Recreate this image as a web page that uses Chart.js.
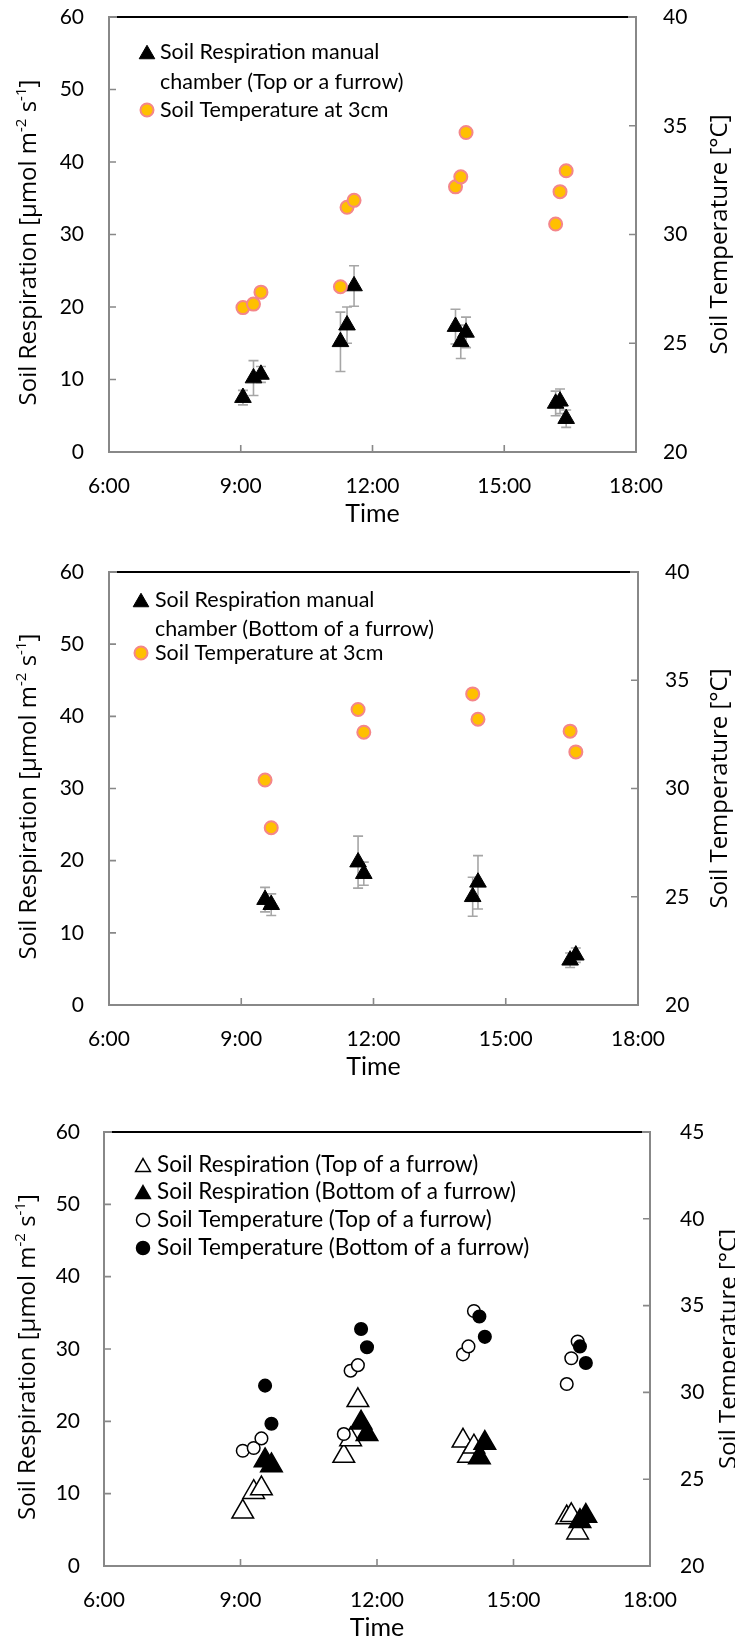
<!DOCTYPE html>
<html><head><meta charset="utf-8">
<script src="https://cdn.jsdelivr.net/npm/chart.js@4.4.1/dist/chart.umd.min.js"></script>
<style>
html,body{margin:0;padding:0;background:#fff;overflow:hidden;width:735px;height:1640px;position:relative;}
canvas{position:absolute;left:0;}
</style></head><body>
<canvas id="c1" width="735" height="532" style="top:0px"></canvas>
<canvas id="c2" width="735" height="545" style="top:540px"></canvas>
<canvas id="c3" width="735" height="546" style="top:1100px"></canvas>
<script>
// ---------------- DATA ----------------
const xTickLabels = ['6:00', '9:00', '12:00', '15:00', '18:00'];

// Top of a furrow (hours of day)
const topTimes        = [9.05, 9.29, 9.46, 11.27, 11.42, 11.58, 13.89, 14.01, 14.13, 16.17, 16.27, 16.41];
const topRespiration  = [7.5, 10.2, 10.7, 15.2, 17.5, 22.9, 17.3, 15.2, 16.5, 6.7, 7.0, 4.6];
const topRespErr      = [1.0, 2.4, 1.1, 4.1, 2.5, 2.8, 2.4, 2.3, 2.1, 1.7, 1.7, 1.2];
const topTemperature  = [26.64, 26.80, 27.35, 27.60, 31.25, 31.57, 32.19, 32.65, 34.69, 30.48, 31.97, 32.93];

// Bottom of a furrow
const bottomTimes       = [9.54, 9.68, 11.65, 11.78, 14.25, 14.37, 16.46, 16.59];
const bottomRespiration = [14.6, 13.9, 19.8, 18.2, 15.0, 17.0, 6.2, 6.9];
const bottomRespErr     = [1.7, 1.5, 3.6, 1.6, 2.7, 3.7, 1.0, 1.0];
const bottomTemperature = [30.39, 28.19, 33.65, 32.60, 34.37, 33.20, 32.65, 31.69];

const legendTop    = ['Soil Respiration manual', 'chamber (Top or a furrow)', 'Soil Temperature at 3cm'];
const legendBottom = ['Soil Respiration manual', 'chamber (Bottom of a furrow)', 'Soil Temperature at 3cm'];
const legendBoth   = ['Soil Respiration (Top of a furrow)', 'Soil Respiration (Bottom of a furrow)',
                      'Soil Temperature (Top of a furrow)', 'Soil Temperature (Bottom of a furrow)'];
const xTitle = 'Time';
const yTitleParts = [['Soil Respiration [\u00b5mol m', 0], ['-2', 1], [' s', 0], ['-1', 1], [']', 0]];
const y2Title = 'Soil Temperature [\u00b0C]';

// ---------------- STYLES ----------------
const axisGray = '#888888';
const tickFont = {family: 'Lato', size: 21};
const titleFamily = '"Open Sans"';
const titleSize = 24;

const ST = {
  triBlack:   {pointStyle: 'triangle', radius: 9.6, bg: '#000000', border: '#000000', bw: 1},
  circOrange: {pointStyle: 'circle',   radius: 6.5, bg: '#ffc000', border: '#f4868a', bw: 2},
  triHollow:  {pointStyle: 'triangle', radius: 12.5, bg: '#ffffff', border: '#000000', bw: 1.5},
  triFilled:  {pointStyle: 'triangle', radius: 12.5, bg: '#000000', border: '#000000', bw: 1.5},
  circHollow: {pointStyle: 'circle',   radius: 6.3, bg: '#ffffff', border: '#000000', bw: 1.5},
  circFilled: {pointStyle: 'circle',   radius: 6.3, bg: '#000000', border: '#000000', bw: 1.5}
};

function pts(xs, ys) { return xs.map((x, i) => ({x: x, y: ys[i]})); }

function ds(label, data, axis, st, order) {
  return {label: label, data: data, yAxisID: axis, showLine: false, order: order,
    pointStyle: st.pointStyle, pointRadius: st.radius, pointHoverRadius: st.radius,
    pointBackgroundColor: st.bg, pointBorderColor: st.border, pointBorderWidth: st.bw,
    backgroundColor: st.bg, borderColor: st.border};
}

function drawMarker(ctx, st, x, y, r) {
  ctx.save();
  ctx.fillStyle = st.bg; ctx.strokeStyle = st.border; ctx.lineWidth = st.bw;
  ctx.beginPath();
  if (st.pointStyle === 'triangle') {
    const h = 1.5 * r, w = 1.732 * r, top = y - h / 2;
    ctx.moveTo(x, top); ctx.lineTo(x + w / 2, top + h); ctx.lineTo(x - w / 2, top + h); ctx.closePath();
  } else {
    ctx.arc(x, y, r, 0, Math.PI * 2);
  }
  ctx.fill(); if (st.bw > 0) ctx.stroke();
  ctx.restore();
}

function drawRotated(ctx, parts, cx, cy) {
  const f = titleSize + 'px ' + titleFamily;
  const sf = Math.round(titleSize * 0.62) + 'px ' + titleFamily;
  ctx.save();
  ctx.translate(cx, cy); ctx.rotate(-Math.PI / 2);
  ctx.fillStyle = '#000'; ctx.textBaseline = 'alphabetic'; ctx.textAlign = 'left';
  let total = 0; const ws = [];
  parts.forEach(p => { ctx.font = p[1] ? sf : f; const w = ctx.measureText(p[0]).width; ws.push(w); total += w; });
  let x = -total / 2; const base = titleSize * 0.36;
  parts.forEach((p, i) => {
    ctx.font = p[1] ? sf : f;
    ctx.fillText(p[0], x, p[1] ? base - titleSize * 0.42 : base);
    x += ws[i];
  });
  ctx.restore();
}

function decorPlugin(cfg) {
  return {
    id: 'decor',
    beforeDatasetsDraw(chart) {
      if (!cfg.errorBars) return;
      const {ctx, scales} = chart;
      const eb = cfg.errorBars;
      const d = chart.data.datasets[eb.dataset].data;
      ctx.save(); ctx.strokeStyle = '#a6a6a6'; ctx.lineWidth = 1.6;
      ctx.beginPath();
      d.forEach((p, i) => {
        const x = scales.x.getPixelForValue(p.x);
        const yt = scales.y.getPixelForValue(p.y + eb.errors[i]);
        const yb = scales.y.getPixelForValue(p.y - eb.errors[i]);
        ctx.moveTo(x, yt); ctx.lineTo(x, yb);
        ctx.moveTo(x - 5, yt); ctx.lineTo(x + 5, yt);
        ctx.moveTo(x - 5, yb); ctx.lineTo(x + 5, yb);
      });
      ctx.stroke(); ctx.restore();
    },
    afterDraw(chart) {
      const {ctx, chartArea: a, scales} = chart;
      ctx.save();
      // inward tick marks
      ctx.strokeStyle = axisGray; ctx.lineWidth = 1.6; ctx.beginPath();
      scales.x.ticks.forEach(t => { const p = scales.x.getPixelForValue(t.value); ctx.moveTo(p, a.bottom); ctx.lineTo(p, a.bottom - 7); });
      scales.y.ticks.forEach(t => { const p = scales.y.getPixelForValue(t.value); ctx.moveTo(a.left, p); ctx.lineTo(a.left + 7, p); });
      scales.y2.ticks.forEach(t => { const p = scales.y2.getPixelForValue(t.value); ctx.moveTo(a.right, p); ctx.lineTo(a.right - 7, p); });
      ctx.stroke();
      // top border
      ctx.lineWidth = 2; ctx.strokeStyle = axisGray;
      ctx.beginPath(); ctx.moveTo(a.left, a.top); ctx.lineTo(a.right, a.top); ctx.stroke();
      ctx.strokeStyle = '#000';
      ctx.beginPath(); ctx.moveTo(a.left + 8, a.top); ctx.lineTo(a.right - 8, a.top); ctx.stroke();
      ctx.restore();
      // axis titles
      const cy = (a.top + a.bottom) / 2;
      drawRotated(ctx, yTitleParts, cfg.leftTitleX, cy + 8);
      drawRotated(ctx, [[y2Title, 0]], cfg.rightTitleX, cy);
      // legend
      ctx.save();
      ctx.font = cfg.legendFont; ctx.fillStyle = '#000'; ctx.textBaseline = 'middle'; ctx.textAlign = 'left';
      cfg.legend.forEach(it => {
        if (it.st) drawMarker(ctx, it.st, cfg.legendMarkerX, it.y, it.r);
        ctx.fillText(it.text, cfg.legendTextX, it.y);
      });
      ctx.restore();
    }
  };
}

function makeChart(id, datasets, opt) {
  const noGrid = {display: false, drawTicks: false};
  const border = {display: true, color: axisGray, width: 2};
  const fixY = w => s => { s.width = w; s.paddingTop = 0; s.paddingBottom = 0; };
  return new Chart(document.getElementById(id), {
    type: 'scatter',
    data: {datasets: datasets},
    options: {
      responsive: false, animation: false, devicePixelRatio: 1, events: [],
      layout: {padding: {top: opt.padTop, left: 0, right: 0, bottom: 0}},
      plugins: {legend: {display: false}, tooltip: {enabled: false}},
      scales: {
        x: {type: 'linear', position: 'bottom', min: 6, max: 18,
            ticks: {stepSize: 3, padding: 22, color: '#000', font: tickFont, maxRotation: 0, autoSkip: false,
                    callback: (v, i) => xTickLabels[i]},
            grid: noGrid, border: border,
            title: {display: true, text: xTitle, color: '#000', font: {family: 'Lato', size: 25}, padding: {top: 0, bottom: 3}},
            afterFit: s => { s.height = 80; s.paddingLeft = 0; s.paddingRight = 0; }},
        y: {type: 'linear', position: 'left', min: 0, max: 60,
            ticks: {stepSize: 10, padding: opt.leftPad, color: '#000', font: tickFont},
            grid: noGrid, border: border,
            afterFit: fixY(opt.leftW)},
        y2: {type: 'linear', position: 'right', min: 20, max: opt.y2Max,
            ticks: {stepSize: 5, padding: opt.rightPad, color: '#000', font: tickFont},
            grid: noGrid, border: border,
            afterFit: fixY(opt.rightW)}
      }
    },
    plugins: [decorPlugin(opt)]
  });
}

// ---------------- CHART 1 ----------------
makeChart('c1', [
  ds(legendTop[0], pts(topTimes, topRespiration), 'y', ST.triBlack, 2),
  ds(legendTop[2], pts(topTimes, topTemperature), 'y2', ST.circOrange, 1)
], {
  padTop: 17, leftW: 109, rightW: 99, leftPad: 25, rightPad: 27, y2Max: 40,
  leftTitleX: 27, rightTitleX: 718,
  errorBars: {dataset: 0, errors: topRespErr},
  legendFont: '21.5px Lato', legendMarkerX: 147, legendTextX: 160,
  legend: [
    {st: ST.triBlack, r: 9, y: 52, text: legendTop[0]},
    {st: null, y: 82, text: legendTop[1]},
    {st: ST.circOrange, r: 6.5, y: 110, text: legendTop[2]}
  ]
});

// ---------------- CHART 2 ----------------
makeChart('c2', [
  ds(legendBottom[0], pts(bottomTimes, bottomRespiration), 'y', ST.triBlack, 2),
  ds(legendBottom[2], pts(bottomTimes, bottomTemperature), 'y2', ST.circOrange, 1)
], {
  padTop: 32, leftW: 109, rightW: 97, leftPad: 25, rightPad: 27, y2Max: 40,
  leftTitleX: 27, rightTitleX: 718,
  errorBars: {dataset: 0, errors: bottomRespErr},
  legendFont: '21.5px Lato', legendMarkerX: 141, legendTextX: 155,
  legend: [
    {st: ST.triBlack, r: 9, y: 60, text: legendBottom[0]},
    {st: null, y: 89, text: legendBottom[1]},
    {st: ST.circOrange, r: 6.5, y: 113, text: legendBottom[2]}
  ]
});

// ---------------- CHART 3 ----------------
makeChart('c3', [
  ds(legendBoth[0], pts(topTimes, topRespiration), 'y', ST.triHollow, 4),
  ds(legendBoth[1], pts(bottomTimes, bottomRespiration), 'y', ST.triFilled, 3),
  ds(legendBoth[2], pts(topTimes, topTemperature), 'y2', ST.circHollow, 2),
  ds(legendBoth[3], pts(bottomTimes, bottomTemperature), 'y2', ST.circFilled, 1)
], {
  padTop: 32, leftW: 104, rightW: 85, leftPad: 24, rightPad: 30, y2Max: 45,
  leftTitleX: 26, rightTitleX: 727,
  errorBars: null,
  legendFont: '22.5px Lato', legendMarkerX: 143, legendTextX: 157,
  legend: [
    {st: ST.triHollow, r: 8.5, y: 65, text: legendBoth[0]},
    {st: ST.triFilled, r: 8.5, y: 92, text: legendBoth[1]},
    {st: ST.circHollow, r: 6.5, y: 120, text: legendBoth[2]},
    {st: ST.circFilled, r: 6.5, y: 148, text: legendBoth[3]}
  ]
});
</script>
</body></html>
